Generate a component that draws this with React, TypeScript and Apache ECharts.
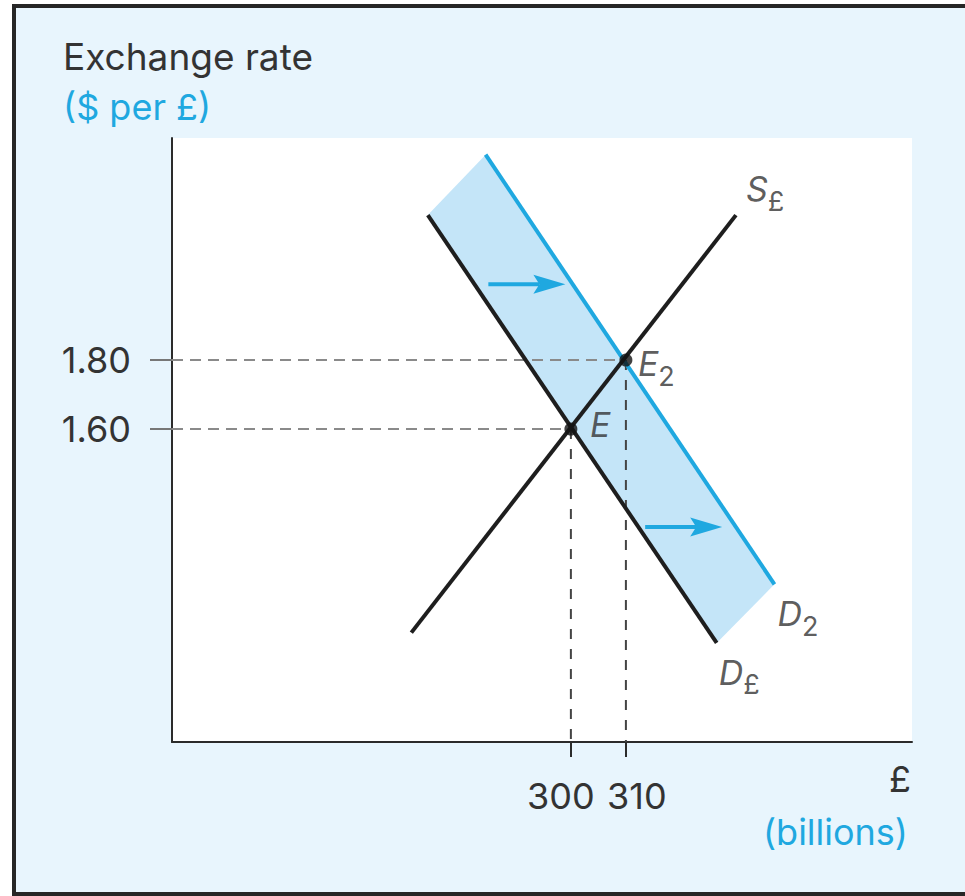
import React, { useEffect, useRef } from 'react';
import * as echarts from 'echarts';

// ---- data ----
const xTicks = [300, 310];
const yTicks = [1.6, 1.8];
const xRange = [227.5, 362];
const yRange = [0.693, 2.4435];
const supplyX = [271, 330];
const supplyY = [1.01, 2.22];
const demandX = [274, 326.5];
const demandY = [2.22, 0.98];
const demand2X = [284.5, 337];
const demand2Y = [2.395, 1.15];
const eqX = [300, 310];
const eqY = [1.6, 1.8];
const eqNames = ['E', 'E2'];
const arrowX0 = [285, 313.5];
const arrowX1 = [299, 327.5];
const arrowY = [2.02, 1.316];

const FONT = 'Inter, "Open Sans", sans-serif';
const DARK = '#2b2b2b';
const BLUE = '#1fa8e0';
const TEXT = '#333333';
const FS = 36;

const richLabel = {
  m: { fontSize: 34, fontStyle: 'italic', color: TEXT, fontFamily: FONT, padding: [0, 0, 9, 0], verticalAlign: 'bottom' },
  s: { fontSize: 27, color: TEXT, fontFamily: FONT, verticalAlign: 'bottom' },
  p: { fontSize: 34, fontStyle: 'italic', color: TEXT, fontFamily: FONT },
};

export default function App() {
  const ref = useRef<HTMLDivElement>(null);
  useEffect(() => {
    if (!ref.current) return;
    const chart = echarts.init(ref.current, undefined, { renderer: 'svg' });
    const lbl = (text: string, dx: number, dy: number) => ({
      show: true,
      position: 'inside',
      align: 'left',
      verticalAlign: 'middle',
      offset: [dx, dy],
      formatter: text,
      rich: richLabel,
    });
    const option: any = {
      animation: false,
      textStyle: { fontFamily: FONT },
      grid: { left: 172, top: 138, width: 740, height: 604, show: true, backgroundColor: '#ffffff', borderWidth: 0 },
      xAxis: {
        type: 'value', min: xRange[0], max: xRange[1],
        splitLine: { show: false },
        axisLine: { lineStyle: { color: DARK, width: 2 } },
        axisTick: { show: true, customValues: xTicks, length: 15, lineStyle: { color: DARK, width: 2 } },
        axisLabel: {
          customValues: xTicks, margin: 36,
          formatter: (v: number) => (Math.abs(v - xTicks[0]) < 1e-6 ? `{l|${v}}` : `{r|${v}}`),
          rich: {
            l: { fontSize: FS, color: TEXT, fontFamily: FONT, padding: [0, 20, 0, 0] },
            r: { fontSize: FS, color: TEXT, fontFamily: FONT, padding: [0, 0, 0, 22] },
          },
        },
      },
      yAxis: {
        type: 'value', min: yRange[0], max: yRange[1],
        splitLine: { show: false },
        axisLine: { lineStyle: { color: DARK, width: 2 } },
        axisTick: { show: true, customValues: yTicks, length: 22, lineStyle: { color: '#777', width: 2 } },
        axisLabel: {
          customValues: yTicks, margin: 41, fontSize: FS, color: TEXT, fontFamily: FONT,
          formatter: (v: number) => v.toFixed(2),
        },
      },
      graphic: [
        { type: 'text', x: 63, y: 56, style: { text: 'Exchange rate', fontSize: 37, fontFamily: FONT, fill: TEXT, verticalAlign: 'middle' } },
        { type: 'text', x: 63, y: 107, style: { text: '($ per £)', fontSize: FS, fontFamily: FONT, fill: BLUE, verticalAlign: 'middle' } },
        { type: 'text', x: 911, y: 779, style: { text: '£', fontSize: FS, fontFamily: FONT, fill: TEXT, align: 'right', verticalAlign: 'middle' } },
        { type: 'text', x: 908, y: 832, style: { text: '(billions)', fontSize: FS, fontFamily: FONT, fill: BLUE, align: 'right', verticalAlign: 'middle' } },
      ],
      series: [
        {
          type: 'custom', name: 'band', silent: true, z: 1,
          data: [[0]],
          renderItem: (params: any, api: any) => {
            const pts = [
              api.coord([demandX[0], demandY[0]]),
              api.coord([demand2X[0], demand2Y[0]]),
              api.coord([demand2X[1], demand2Y[1]]),
              api.coord([demandX[1], demandY[1]]),
            ];
            return { type: 'polygon', shape: { points: pts }, style: { fill: '#c4e5f8' } };
          },
        },
        {
          type: 'line', name: 'h1', z: 2, symbol: 'none',
          data: [[xRange[0], eqY[0]], [eqX[0], eqY[0]]],
          lineStyle: { color: '#8a8a8a', width: 2, type: [11, 7] },
        },
        {
          type: 'line', name: 'h2', z: 2, symbol: 'none',
          data: [[xRange[0], eqY[1]], [eqX[1], eqY[1]]],
          lineStyle: { color: '#8a8a8a', width: 2, type: [11, 7] },
        },
        {
          type: 'line', name: 'v1', z: 2, symbol: 'none',
          data: [[eqX[0], eqY[0]], [eqX[0], yRange[0]]],
          lineStyle: { color: '#444', width: 2, type: [10, 10] },
        },
        {
          type: 'line', name: 'v2', z: 2, symbol: 'none',
          data: [[eqX[1], eqY[1]], [eqX[1], yRange[0]]],
          lineStyle: { color: '#444', width: 2, type: [10, 10] },
        },
        {
          type: 'line', name: 'D2', z: 3, symbol: 'none',
          data: demand2X.map((x, i) => [x, demand2Y[i]]),
          lineStyle: { color: BLUE, width: 4 },
        },
        {
          type: 'line', name: 'D', z: 3, symbol: 'none',
          data: demandX.map((x, i) => [x, demandY[i]]),
          lineStyle: { color: '#1e1e1e', width: 4 },
        },
        {
          type: 'line', name: 'S', z: 3, symbol: 'none',
          data: supplyX.map((x, i) => [x, supplyY[i]]),
          lineStyle: { color: '#1e1e1e', width: 4 },
        },
        {
          type: 'custom', name: 'arrows', z: 4, silent: true,
          data: arrowX0.map((x, i) => [x, arrowX1[i], arrowY[i]]),
          renderItem: (params: any, api: any) => {
            const p0 = api.coord([api.value(0), api.value(2)]);
            const p1 = api.coord([api.value(1), api.value(2)]);
            const hl = 32, hw = 9.5;
            return {
              type: 'group',
              children: [
                { type: 'line', shape: { x1: p0[0], y1: p0[1], x2: p1[0] - hl + 6, y2: p1[1] }, style: { stroke: BLUE, lineWidth: 4 } },
                {
                  type: 'polygon',
                  shape: { points: [[p1[0], p1[1]], [p1[0] - hl, p1[1] - hw], [p1[0] - hl + 6, p1[1]], [p1[0] - hl, p1[1] + hw]] },
                  style: { fill: BLUE },
                },
              ],
            };
          },
        },
        {
          type: 'scatter', name: 'eq', z: 5, symbol: 'circle', symbolSize: 13,
          itemStyle: { color: '#111' },
          data: eqX.map((x, i) => [x, eqY[i]]),
        },
        {
          type: 'scatter', name: 'labels', z: 6, symbolSize: 1, silent: true,
          itemStyle: { color: 'rgba(0,0,0,0)' },
          data: [
            { value: [supplyX[1], supplyY[1]], label: lbl('{m|S}{s|£}', 10, -22) },
            { value: [demand2X[1], demand2Y[1]], label: lbl('{m|D}{s|2}', 3, 34) },
            { value: [demandX[1], demandY[1]], label: lbl('{m|D}{s|£}', 2, 34) },
            { value: [eqX[1], eqY[1]], label: lbl(`{m|${eqNames[1][0]}}{s|${eqNames[1].slice(1)}}`, 12, 8) },
            { value: [eqX[0], eqY[0]], label: lbl(`{p|${eqNames[0]}}`, 19, -5) },
          ],
        },
      ],
    };
    chart.setOption(option);
    return () => chart.dispose();
  }, []);
  return (
    <div style={{ position: 'fixed', left: 0, top: 0, width: 965, height: 896, background: '#fff', overflow: 'hidden' }}>
      <div style={{ position: 'absolute', left: 12, top: 4, width: 1000, height: 884, border: '4px solid #262626', background: '#e8f5fd' }} />
      <div ref={ref} style={{ position: 'absolute', left: 0, top: 0, width: 965, height: 896 }} />
    </div>
  );
}
